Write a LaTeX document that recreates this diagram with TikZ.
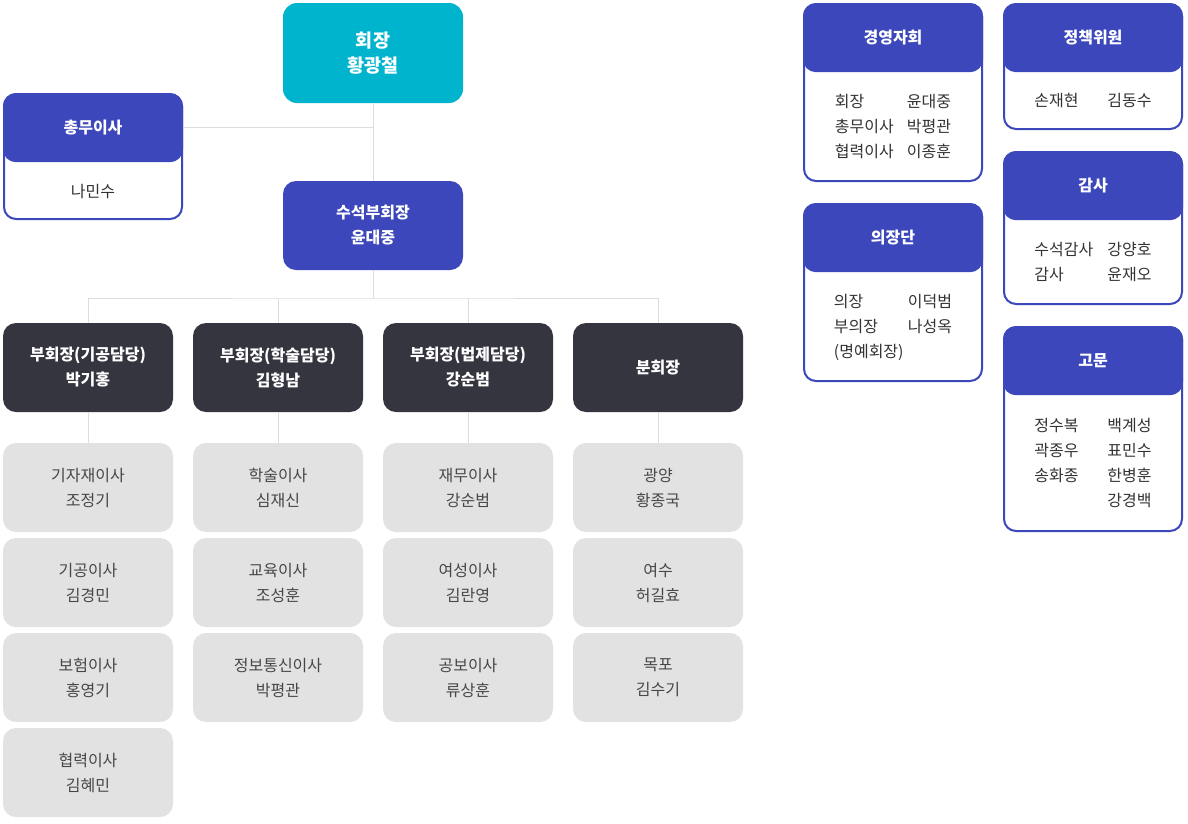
\documentclass[tikz,border=0pt]{standalone}
\usepackage{fontspec}
\setmainfont{Noto Sans CJK KR}
\definecolor{chaircyan}{HTML}{00B4CE}
\definecolor{orgblue}{HTML}{3B47BA}
\definecolor{vpdark}{HTML}{35353F}
\definecolor{memgray}{HTML}{E2E2E2}
\definecolor{linegray}{HTML}{DDDDDD}
\definecolor{textdark}{HTML}{333333}
\definecolor{textgray}{HTML}{474747}
\begin{document}
\begin{tikzpicture}[x=1pt,y=-1pt,
  every node/.style={align=center,inner sep=0pt,font=\fontsize{16}{25}\selectfont},
  chairbox/.style={rectangle,rounded corners=14pt,fill=chaircyan,text=white,
    font=\fontsize{18.5}{25}\selectfont\bfseries,minimum width=180pt,minimum height=100pt},
  bluebox/.style={rectangle,rounded corners=13pt,fill=orgblue,text=white,
    font=\fontsize{16}{25}\selectfont\bfseries,minimum width=180pt,minimum height=89pt},
  darkbox/.style={rectangle,rounded corners=13pt,fill=vpdark,text=white,
    font=\fontsize{16}{25}\selectfont\bfseries,minimum width=170pt,minimum height=89pt},
  graybox/.style={rectangle,rounded corners=13pt,fill=memgray,text=textgray,
    minimum width=170pt,minimum height=89pt},
  cardbox/.style={rectangle,rounded corners=12pt,draw=orgblue,line width=2pt,fill=white,
    minimum width=178pt},
  cardhead/.style={rectangle,rounded corners=13pt,fill=orgblue,text=white,anchor=north,
    font=\fontsize{16}{25}\selectfont\bfseries,minimum width=180pt,minimum height=69pt},
  cardtext/.style={text=textdark},
  link/.style={draw=linegray,line width=1pt}]
\useasboundingbox[fill=white] (0,0) rectangle (1188,823);

% chairman and office
\node[chairbox] (chair) at (373,53) {회장\\황광철};
\node[bluebox] (senior) at (373,225.5) {수석부회장\\윤대중};
\node[cardbox,minimum height=125pt] (chongmuBox) at (93,156.5) {};
\node[cardhead] (chongmu) at (93,93) {총무이사};
\node[cardtext] (chongmuName) at (93,191) {나민수};

% vice chairmen
\node[darkbox] (vp1) at (88,367.5) {부회장(기공담당)\\박기홍};
\node[darkbox] (vp2) at (278,367.5) {부회장(학술담당)\\김형남};
\node[darkbox] (vp3) at (468,367.5) {부회장(법제담당)\\강순범};
\node[darkbox] (vp4) at (658,367.5) {분회장};

% directors
\foreach \c/\x in {1/88,2/278,3/468,4/658}
  \foreach \r/\y in {1/487.5,2/582.5,3/677.5,4/772.5}
    \coordinate (m-\c-\r) at (\x,\y);
\foreach \c/\r/\t in {1/1/{기자재이사\\조정기},1/2/{기공이사\\김경민},1/3/{보험이사\\홍영기},1/4/{협력이사\\김혜민},
    2/1/{학술이사\\심재신},2/2/{교육이사\\조성훈},2/3/{정보통신이사\\박평관},
    3/1/{재무이사\\강순범},3/2/{여성이사\\김란영},3/3/{공보이사\\류상훈},
    4/1/{광양\\황종국},4/2/{여수\\허길효},4/3/{목포\\김수기}}
  \node[graybox] (d-\c-\r) at (m-\c-\r) {\t};

% connectors
\draw[link] (chair.south) -- (senior.north);
\draw[link] (chongmu.east) -- (chongmu.east -| chair.south);
\coordinate (bus) at (373,298);
\draw[link] (senior.south) -- (bus);
\draw[link] (vp1.north) |- (bus) -| (vp4.north);
\draw[link] (vp2.north) -- (vp2.north |- bus);
\draw[link] (vp3.north) -- (vp3.north |- bus);
\foreach \c in {1,2,3,4}
  \draw[link] (vp\c.south) -- (d-\c-1.north);

% committees
\node[cardbox,minimum height=177pt] (kyBox) at (893,92.5) {};
\node[cardhead] (ky) at (893,3) {경영자회};
\node[cardtext] (kyList) at (893,127) {\begin{tabular}{@{}p{72pt}@{}l@{}}회장 & 윤대중\\ 총무이사 & 박평관\\ 협력이사 & 이종훈\end{tabular}};

\node[cardbox,minimum height=177pt] (ejBox) at (893,292.5) {};
\node[cardhead] (ej) at (893,203) {의장단};
\node[cardtext] (ejList) at (893,327) {\begin{tabular}{@{}p{74pt}@{}l@{}}의장 & 이덕범\\ 부의장 & 나성옥\\ (명예회장) & \end{tabular}};

\node[cardbox,minimum height=125pt] (jcBox) at (1093,66.5) {};
\node[cardhead] (jc) at (1093,3) {정책위원};
\node[cardtext] (jcList) at (1093,101) {\begin{tabular}{@{}p{73pt}@{}l@{}}손재현 & 김동수\end{tabular}};

\node[cardbox,minimum height=152pt] (gsBox) at (1093,228) {};
\node[cardhead] (gs) at (1093,151) {감사};
\node[cardtext] (gsList) at (1093,262.5) {\begin{tabular}{@{}p{73pt}@{}l@{}}수석감사 & 강양호\\ 감사 & 윤재오\end{tabular}};

\node[cardbox,minimum height=204pt] (gomunBox) at (1093,429) {};
\node[cardhead] (gomun) at (1093,326) {고문};
\node[cardtext] (gomunList) at (1093,463.5) {\begin{tabular}{@{}p{73pt}@{}l@{}}정수복 & 백계성\\ 곽종우 & 표민수\\ 송화종 & 한병훈\\ & 강경백\end{tabular}};
\end{tikzpicture}
\end{document}
